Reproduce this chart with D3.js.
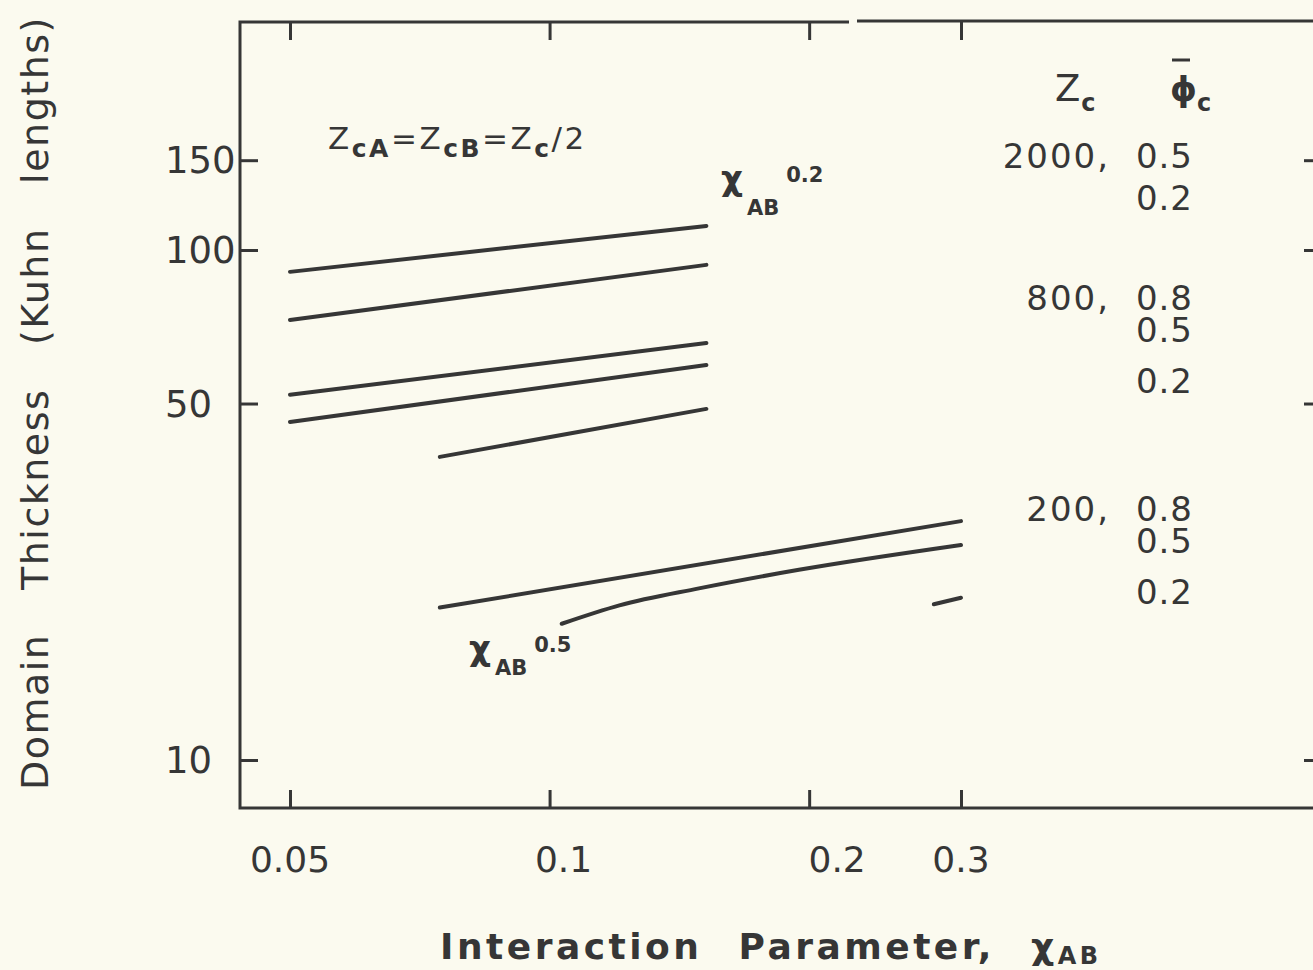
<html>
<head>
<title>Domain thickness vs interaction parameter</title>
<style type="text/css">
	body { margin: 0; background: #fbfaef; }
	svg { display: block; background: #fbfaef; }
	text { font-family: "DejaVu Sans", "Liberation Sans", sans-serif; fill: #363636; }
	.curve { fill: none; stroke: #363636; stroke-width: 4px; stroke-linecap: round; }
	.frame { fill: none; stroke: #363636; stroke-width: 3px; }
	.tick line { stroke: #363636; stroke-width: 3px; }
	.domain { display: none; }
</style>
</head>
<body>
<script src="https://d3js.org/d3.v7.min.js"></script>
<script>
var width = 1313,
	height = 970;

// values: [chi_AB, domain thickness]
var zc2000_phi05 = [[0.05, 90.6], [0.152, 111.5]];
var zc2000_phi02 = [[0.05, 72.9], [0.152, 93.5]];
var zc800_phi08 = [[0.05, 52.0], [0.152, 65.7]];
var zc800_phi05 = [[0.05, 46.0], [0.152, 59.5]];
var zc800_phi02 = [[0.0746, 39.3], [0.152, 48.8]];
var zc200_phi08 = [[0.0746, 19.9], [0.3, 29.4]];
var zc200_phi05 = [[0.1033, 18.5], [0.1205, 20.1], [0.149, 21.7], [0.1946, 23.6], [0.3, 26.4]];
var zc200_phi02 = [[0.279, 20.2], [0.3, 20.8]];

var xTicks = [0.05, 0.1, 0.2, 0.3];
var xTickLabels = ["0.05", "0.1", "0.2", "0.3"];
var yTicks = [10, 50, 100, 150];
var yTickLabels = ["10", "50", "100", "150"];

var legendZc = ["2000,", "", "800,", "", "", "200,", "", ""];
var legendPhi = ["0.5", "0.2", "0.8", "0.5", "0.2", "0.8", "0.5", "0.2"];

// layout (note: "top" is reserved on window, so use frameTop etc.)
var frameLeft = 240, frameRight = 1322, frameTop = 22, frameBottom = 808, tickLen = 18;
var xLabelShift = [0, 14, 28, 0];
var legendBase = [168, 210, 310, 342, 393, 521, 553, 604];

var x = d3.scaleLog().domain([0.05, 0.3]).range([290, 961]);
var y = d3.scaleLog().domain([10, 100]).range([760, 250]);

var svg = d3.select("body").append("svg")
	.attr("width", width)
	.attr("height", height);

// frame (top edge has a small break, as in the scan)
svg.append("path").attr("class", "frame")
	.attr("d", "M849," + frameTop + "H" + frameLeft + "V" + frameBottom + "H" + frameRight);
svg.append("path").attr("class", "frame")
	.attr("d", "M857," + (frameTop - 1) + "H" + frameRight);

svg.append("g").attr("transform", "translate(0," + frameBottom + ")")
	.call(d3.axisBottom(x).tickValues(xTicks).tickSize(-tickLen).tickFormat(""));
svg.append("g").attr("transform", "translate(0," + frameTop + ")")
	.call(d3.axisTop(x).tickValues(xTicks).tickSize(-tickLen).tickFormat(""));
svg.append("g").attr("transform", "translate(" + frameLeft + ",0)")
	.call(d3.axisLeft(y).tickValues(yTicks).tickSize(-tickLen).tickFormat(""));
svg.append("g").attr("transform", "translate(" + frameRight + ",0)")
	.call(d3.axisRight(y).tickValues(yTicks).tickSize(-tickLen).tickFormat(""));

svg.selectAll(".xlab").data(xTicks).enter().append("text")
	.attr("class", "xlab")
	.attr("x", function(d, i) { return x(d) + xLabelShift[i]; })
	.attr("y", 872)
	.attr("text-anchor", "middle")
	.style("font-size", "36px")
	.text(function(d, i) { return xTickLabels[i]; });

svg.selectAll(".ylab").data(yTicks).enter().append("text")
	.attr("class", "ylab")
	.attr("x", 165)
	.attr("y", function(d) { return y(d) + 13; })
	.style("font-size", "37px")
	.text(function(d, i) { return yTickLabels[i]; });

var line = d3.line()
	.x(function(d) { return x(d[0]); })
	.y(function(d) { return y(d[1]); })
	.curve(d3.curveMonotoneX);

var series = [zc2000_phi05, zc2000_phi02, zc800_phi08, zc800_phi05, zc800_phi02,
	zc200_phi08, zc200_phi05, zc200_phi02];

svg.selectAll(".curve").data(series).enter().append("path")
	.attr("class", "curve")
	.attr("d", line);

// legend column
svg.selectAll(".lzc").data(legendZc).enter().append("text")
	.attr("x", 1110).attr("y", function(d, i) { return legendBase[i]; })
	.attr("text-anchor", "end")
	.style("font-size", "34px").style("letter-spacing", "2px")
	.text(function(d) { return d; });
svg.selectAll(".lphi").data(legendPhi).enter().append("text")
	.attr("x", 1193).attr("y", function(d, i) { return legendBase[i]; })
	.attr("text-anchor", "end")
	.style("font-size", "34px").style("letter-spacing", "1px")
	.text(function(d) { return d; });

var head = svg.append("text").attr("x", 1055).attr("y", 101).style("font-size", "37px");
head.append("tspan").text("Z");
head.append("tspan").attr("dx", 1).attr("dy", 10).style("font-size", "24px").style("font-weight", "bold").text("c");

var phi = svg.append("text").attr("x", 1170).attr("y", 101).style("font-size", "34px");
phi.append("tspan").style("font-weight", "bold").text("\u03d5");
phi.append("tspan").attr("dy", 10).style("font-size", "24px").style("font-weight", "bold").text("c");
svg.append("line").attr("x1", 1172).attr("x2", 1190).attr("y1", 60).attr("y2", 60)
	.attr("stroke", "#363636").attr("stroke-width", 3);

// annotations
var eq = svg.append("text").attr("x", 328).attr("y", 149)
	.style("font-size", "31px").style("letter-spacing", "2.5px");
[["Z", 0], ["cA", 1], ["=Z", 0], ["cB", 1], ["=Z", 0], ["c", 1], ["/2", 0]].forEach(function(p, i, arr) {
	var prev = i > 0 ? arr[i - 1][1] : 0;
	var t = eq.append("tspan").text(p[0]);
	if (p[1] != prev) t.attr("dy", p[1] ? 8 : -8);
	if (p[1]) t.style("font-size", "25px").style("font-weight", "bold").style("letter-spacing", "2.5px");
});

function chiLabel(px, py, subDy, supDy, expo) {
	var t = svg.append("text").attr("x", px).attr("y", py).style("font-size", "34px");
	t.append("tspan").style("font-weight", "bold").text("\u03c7");
	t.append("tspan").attr("dx", 4).attr("dy", subDy).style("font-size", "21px").style("font-weight", "bold").text("AB");
	t.append("tspan").attr("dx", 7).attr("dy", supDy).style("font-size", "21px").style("font-weight", "bold").text(expo);
}
chiLabel(721, 190, 25, -33, "0.2");
chiLabel(469, 660, 15, -23, "0.5");

// axis titles
var xt = svg.append("text").attr("x", 440).attr("y", 959)
	.style("font-size", "36px").style("font-weight", "bold").style("letter-spacing", "3.5px")
	.style("word-spacing", "20px");
xt.append("tspan").text("Interaction Parameter, \u03c7");
xt.append("tspan").attr("dy", 5).style("font-size", "24px").text("AB");

svg.append("text")
	.attr("transform", "translate(48,790)rotate(-90)")
	.style("font-size", "38px")
	.style("letter-spacing", "1.5px")
	.style("word-spacing", "30px")
	.text("Domain Thickness (Kuhn lengths)");
</script>
</body>
</html>
